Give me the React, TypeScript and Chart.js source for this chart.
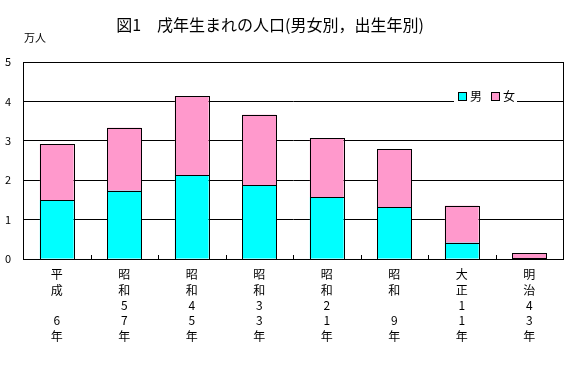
import React, { useEffect, useRef } from "react";
import { Chart, registerables } from "chart.js";

Chart.register(...registerables);

const categories: string[][] = [
  ["平", "成", "", "6", "年"],
  ["昭", "和", "5", "7", "年"],
  ["昭", "和", "4", "5", "年"],
  ["昭", "和", "3", "3", "年"],
  ["昭", "和", "2", "1", "年"],
  ["昭", "和", "", "9", "年"],
  ["大", "正", "1", "1", "年"],
  ["明", "治", "4", "3", "年"],
];
const male: number[] = [1.5, 1.73, 2.13, 1.88, 1.57, 1.32, 0.41, 0.02];
const female: number[] = [1.42, 1.6, 2.01, 1.78, 1.5, 1.47, 0.94, 0.13];
const yTicks: number[] = [0, 1, 2, 3, 4, 5];
const titleText = "図1　戌年生まれの人口(男女別，出生年別)";
const unitText = "万人";
const seriesNames = ["男", "女"];
const seriesColors = ["#00FFFF", "#FF99CC"];

const FONT = '"Noto Sans CJK JP", "Noto Sans", sans-serif';

export default function App() {
  const ref = useRef<HTMLCanvasElement | null>(null);
  useEffect(() => {
    document.body.style.margin = "0";
    const canvas = ref.current!;
    const decor = {
      id: "decor",
      afterDatasetsDraw(chart: any) {
        const ctx = chart.ctx;
        ctx.save();
        ctx.strokeStyle = "#000";
        ctx.lineWidth = 1;
        chart.data.datasets.forEach((_: any, di: number) => {
          const meta = chart.getDatasetMeta(di);
          meta.data.forEach((el: any) => {
            const p = el.getProps(["x", "y", "base", "width"], true);
            const l = Math.round(p.x - p.width / 2);
            const r = Math.round(p.x + p.width / 2);
            const t = Math.round(Math.min(p.y, p.base));
            const b = Math.round(Math.max(p.y, p.base));
            ctx.strokeRect(l + 0.5, t + 0.5, r - l, b - t);
          });
        });
        ctx.restore();
      },
      afterDraw(chart: any) {
        const ctx = chart.ctx;
        const a = chart.chartArea;
        ctx.save();
        ctx.strokeStyle = "#000";
        ctx.lineWidth = 1;
        ctx.strokeRect(Math.round(a.left) + 0.5, Math.round(a.top) + 0.5, Math.round(a.right - a.left), Math.round(a.bottom - a.top));
        const n = categories.length;
        const w = (a.right - a.left) / n;
        for (let i = 1; i < n; i++) {
          const x = Math.round(a.left + w * i) + 0.5;
          ctx.beginPath();
          ctx.moveTo(x, Math.round(a.bottom));
          ctx.lineTo(x, Math.round(a.bottom) - 4);
          ctx.stroke();
        }
        ctx.fillStyle = "#000";
        ctx.textBaseline = "middle";
        ctx.textAlign = "center";
        ctx.font = `16px ${FONT}`;
        ctx.fillText(titleText, 270, 25);
        ctx.textAlign = "left";
        ctx.font = `11px ${FONT}`;
        ctx.fillText(unitText, 24, 38);
        const ly = 96;
        ctx.fillStyle = "#fff";
        ctx.fillRect(454, 88, 63, 16);
        ctx.font = `12px ${FONT}`;
        let x = 458;
        seriesNames.forEach((name, i) => {
          ctx.fillStyle = seriesColors[i];
          ctx.fillRect(x, ly - 4, 8, 8);
          ctx.strokeStyle = "#000";
          ctx.strokeRect(x + 0.5, ly - 4 + 0.5, 8, 8);
          ctx.fillStyle = "#000";
          ctx.fillText(name, x + 12, ly);
          x += 33;
        });
        ctx.restore();
      },
    };
    const chart = new Chart(canvas, {
      type: "bar",
      data: {
        labels: categories,
        datasets: [
          {
            label: seriesNames[0],
            data: male,
            backgroundColor: seriesColors[0],
            borderWidth: 0,
            categoryPercentage: 1,
            barPercentage: 0.5,
          },
          {
            label: seriesNames[1],
            data: female,
            backgroundColor: seriesColors[1],
            borderWidth: 0,
            categoryPercentage: 1,
            barPercentage: 0.5,
          },
        ],
      },
      options: {
        animation: false,
        responsive: false,
        maintainAspectRatio: false,
        layout: { padding: { top: 62, right: 4, left: 0, bottom: 0 } },
        plugins: { legend: { display: false }, tooltip: { enabled: false }, title: { display: false } },
        scales: {
          x: {
            stacked: true,
            grid: { display: false, drawTicks: false },
            border: { display: true, color: "#000" },
            ticks: {
              color: "#000",
              padding: 8,
              maxRotation: 0,
              autoSkip: false,
              font: { family: FONT, size: 12, lineHeight: 1.28 },
            },
            afterFit(s: any) {
              s.height = 110;
            },
          },
          y: {
            stacked: true,
            min: 0,
            max: 5,
            afterBuildTicks(s: any) {
              s.ticks = yTicks.map((v) => ({ value: v }));
            },
            grid: { color: "#000", drawTicks: false },
            border: { display: true, color: "#000" },
            ticks: {
              color: "#000",
              padding: 12,
              font: { family: FONT, size: 11 },
            },
            afterFit(s: any) {
              s.width = 23;
            },
          },
        },
      },
      plugins: [decor],
    });
    return () => chart.destroy();
  }, []);
  return (
    <div style={{ width: 567, height: 369 }}>
      <canvas ref={ref} width={567} height={369} style={{ display: "block" }} />
    </div>
  );
}
